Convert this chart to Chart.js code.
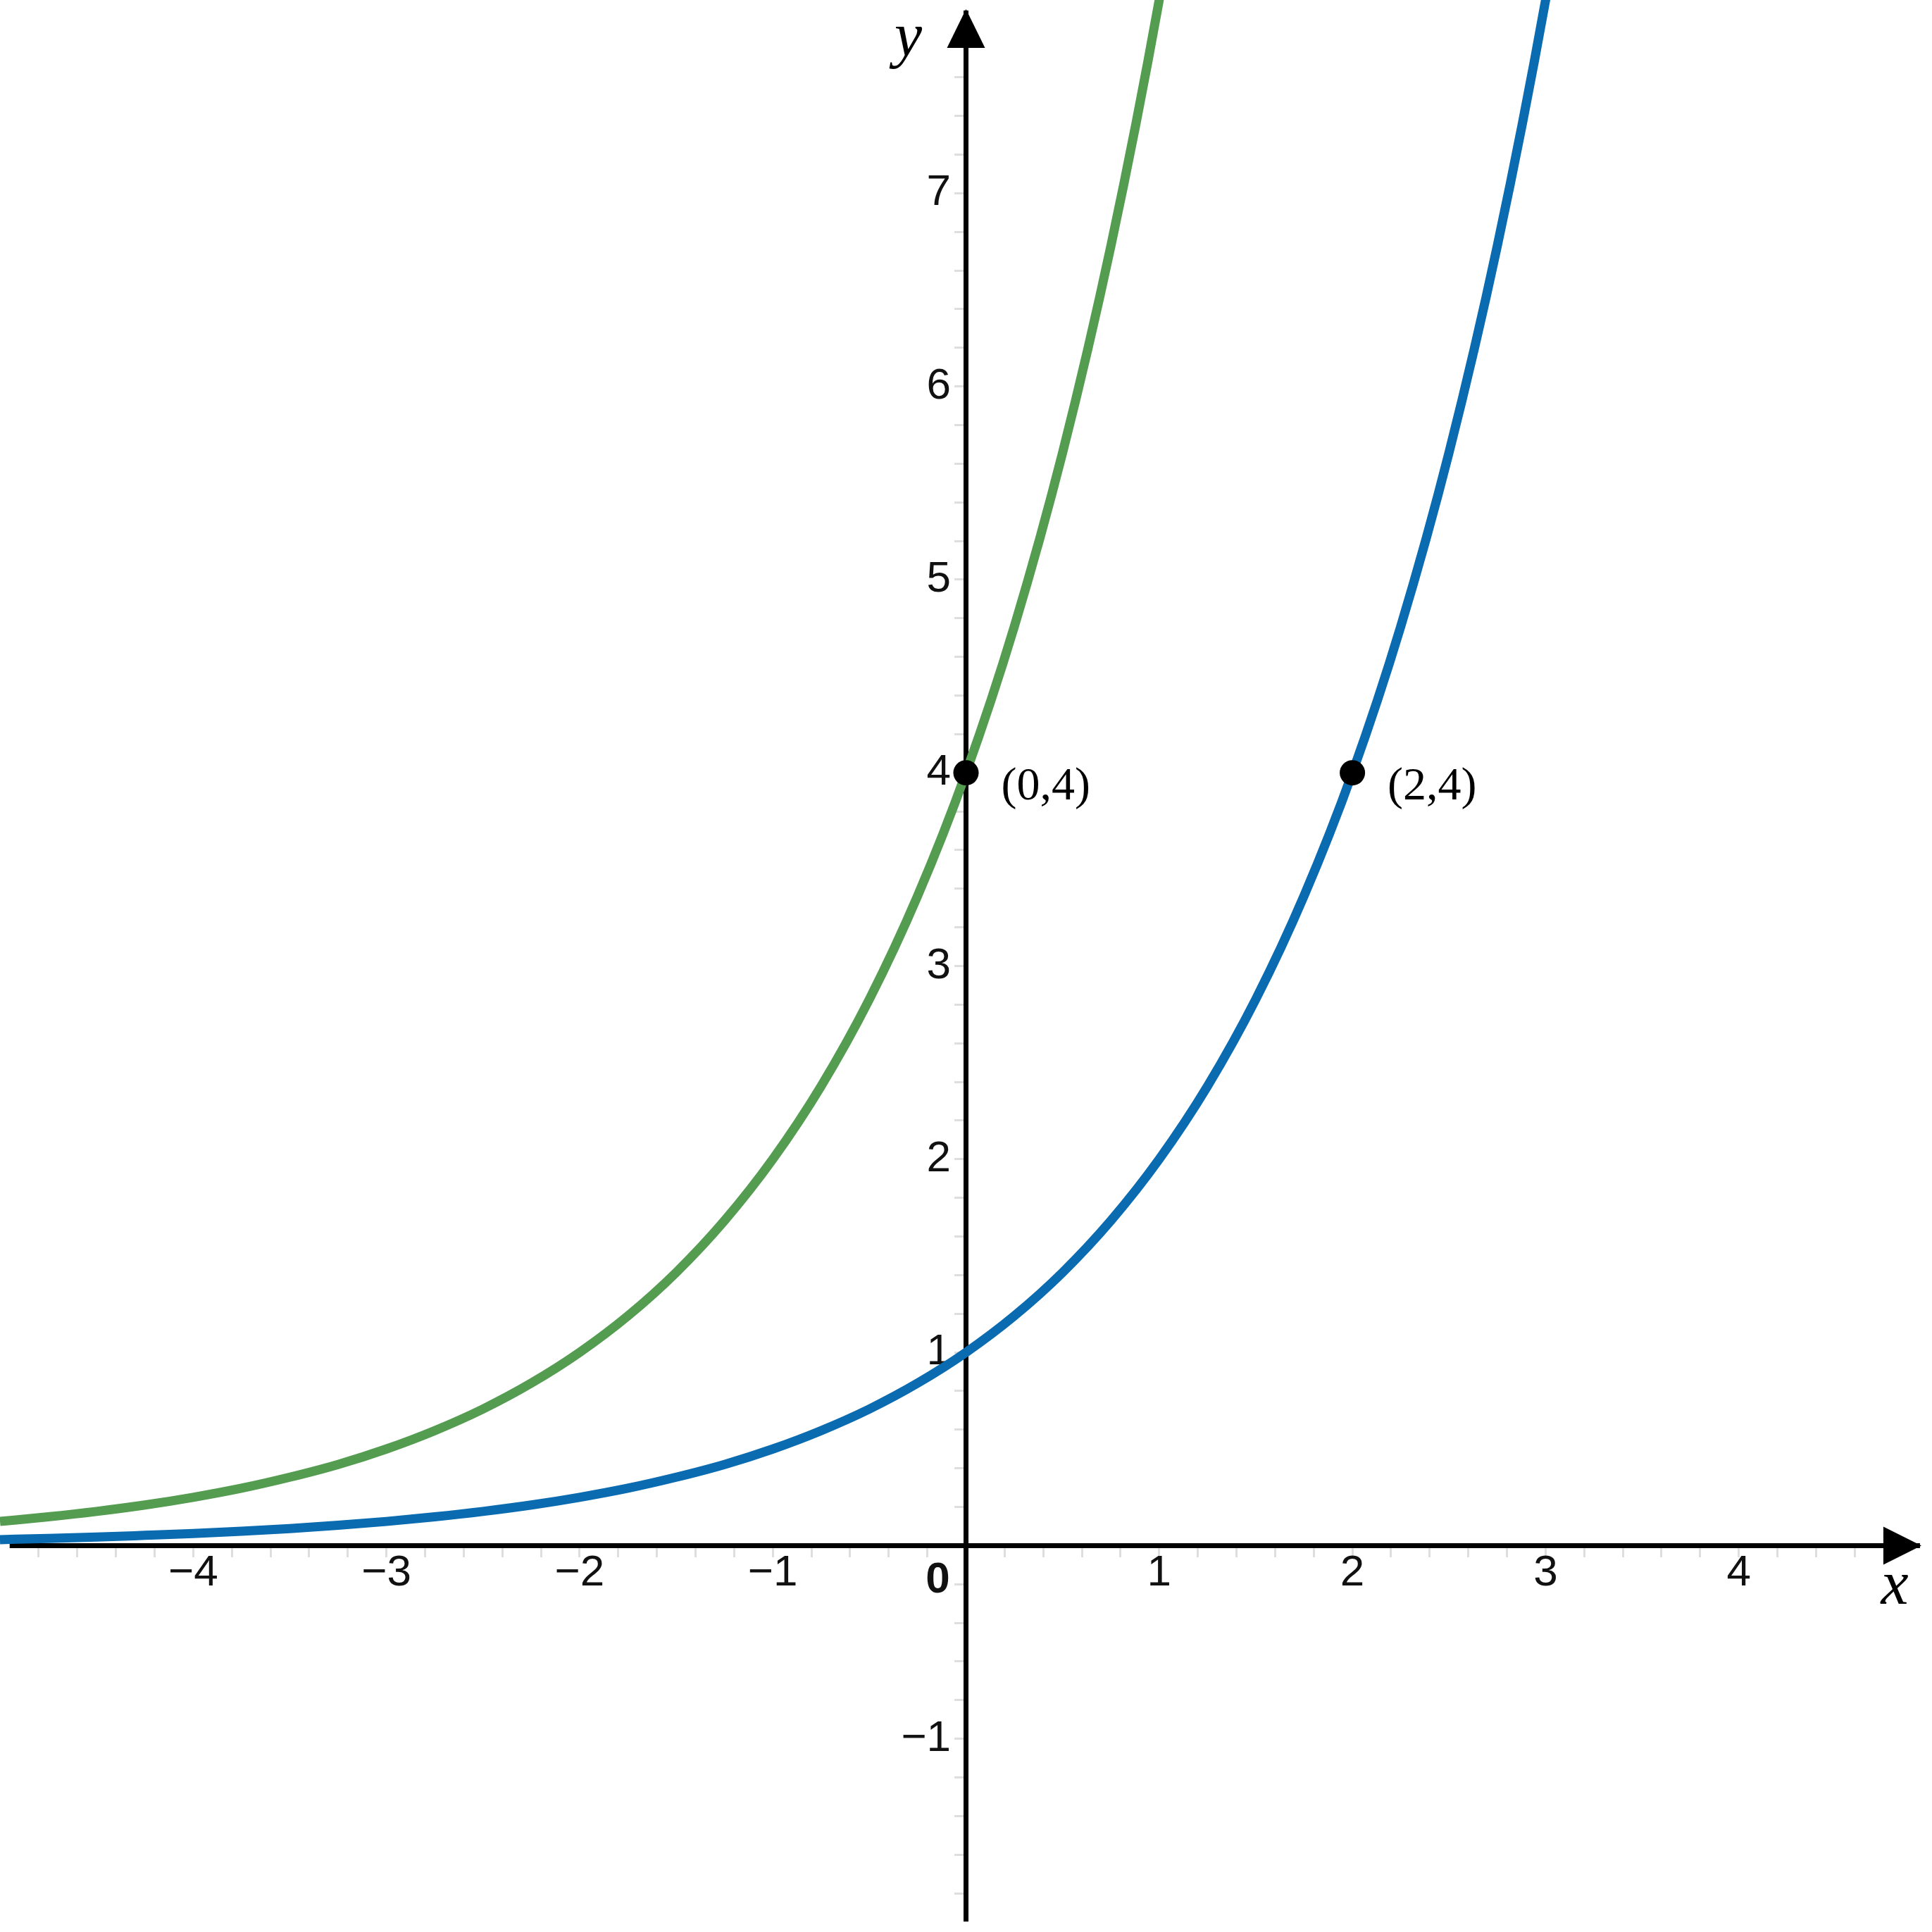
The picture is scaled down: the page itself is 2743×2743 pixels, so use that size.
<!DOCTYPE html>
<html>
<head>
<meta charset="utf-8">
<script src="https://cdn.jsdelivr.net/npm/chart.js@4.4.1/dist/chart.umd.min.js"></script>
<style>
  html, body { margin: 0; padding: 0; background: #fff; }
  canvas { display: block; }
</style>
</head>
<body>
<canvas id="expChart" width="2743" height="2743"></canvas>
<script>
const xSamples = [-5, -4.75, -4.5, -4.25, -4, -3.75, -3.5, -3.25, -3, -2.75, -2.5, -2.25,
    -2, -1.75, -1.5, -1.25, -1, -0.75, -0.5, -0.25, 0, 0.25, 0.5, 0.75,
    1, 1.25, 1.5, 1.75, 2, 2.25, 2.5, 2.75, 3, 3.25];
// green curve (through (0,4)), leaves the top of the plot near x = 1
const greenY = [0.125, 0.149, 0.177, 0.21, 0.25, 0.297, 0.354, 0.42, 0.5, 0.595, 0.707, 0.841,
    1, 1.189, 1.414, 1.682, 2, 2.378, 2.828, 3.364, 4, 4.757, 5.657, 6.727,
    8, 9.51];
// blue curve (through (0,1) and (2,4)), leaves the top near x = 3
const blueY = [0.031, 0.037, 0.044, 0.053, 0.0625, 0.074, 0.088, 0.105, 0.125, 0.149, 0.177, 0.21,
    0.25, 0.297, 0.354, 0.42, 0.5, 0.595, 0.707, 0.841, 1, 1.189, 1.414, 1.682,
    2, 2.378, 2.828, 3.364, 4, 4.757, 5.657, 6.727, 8, 9.51];
// marked points
const markX = [0, 2];
const markY = [4, 4];
const markLabels = ['(0,4)', '(2,4)'];
// axes
const xRange = [-5, 5];
const yRange = [-2, 8];
const xTickLabels = [-4, -3, -2, -1, 1, 2, 3, 4];
const yTickLabels = [-1, 1, 2, 3, 4, 5, 6, 7];

const GREEN = '#539c50';
const BLUE = '#0a6bb1';
const SANS = '"Liberation Sans", Arial, sans-serif';
const SERIF = '"Liberation Serif", "Times New Roman", serif';

function toPoints(ys) {
    return ys.map((y, i) => ({ x: xSamples[i], y: y }));
}

function fmt(n) {
    return n < 0 ? '\u2212' + (-n) : String(n);
}

function tickLabel(list) {
    return function(value) {
        const r = Math.round(value);
        if (Math.abs(value - r) < 1e-6 && list.includes(r)) return fmt(r);
        return '';
    };
}

function tickColor(range) {
    return function(c) {
        const v = c.tick ? c.tick.value : 0;
        if (v <= range[0] + 0.05 || v >= range[1] - 0.05) return 'rgba(0,0,0,0)';
        return '#dedede';
    };
}

// the axes sit inside the plot, so their labels must not shrink it
function noPadding(scale) {
    scale.paddingTop = 0;
    scale.paddingBottom = 0;
    scale.paddingLeft = 0;
    scale.paddingRight = 0;
}

// arrowheads, the origin "0", axis letters and point labels
const axisDecor = {
    id: 'axisDecor',
    beforeDatasetsDraw(chart) {
        const { ctx, scales: { x, y } } = chart;
        const x0 = x.getPixelForValue(0);
        const y0 = y.getPixelForValue(0);
        const xTip = x.getPixelForValue(4.945);
        const yTip = y.getPixelForValue(7.953);
        const xStart = x.getPixelForValue(-4.95);
        const yStart = y.getPixelForValue(-1.946);
        ctx.save();
        // trim the axis lines where the picture stops them
        ctx.fillStyle = '#fff';
        ctx.fillRect(xTip - 2, y0 - 6, chart.width - xTip + 2, 12);
        ctx.fillRect(0, y0 - 6, xStart, 12);
        ctx.fillRect(x0 - 6, 0, 12, yTip + 2);
        ctx.fillRect(x0 - 6, yStart, 12, chart.height - yStart);
        ctx.fillStyle = '#000';
        ctx.beginPath();
        ctx.moveTo(x0, yTip);
        ctx.lineTo(x0 - 27, yTip + 55);
        ctx.lineTo(x0 + 27, yTip + 55);
        ctx.closePath();
        ctx.fill();
        ctx.beginPath();
        ctx.moveTo(xTip, y0);
        ctx.lineTo(xTip - 54, y0 - 27);
        ctx.lineTo(xTip - 54, y0 + 27);
        ctx.closePath();
        ctx.fill();
        ctx.restore();
    },
    afterDatasetsDraw(chart) {
        const { ctx, scales: { x, y } } = chart;
        const x0 = x.getPixelForValue(0);
        const y0 = y.getPixelForValue(0);
        const xTip = x.getPixelForValue(4.945);
        const yTip = y.getPixelForValue(7.953);
        ctx.save();
        ctx.fillStyle = '#111';
        ctx.textAlign = 'center';
        ctx.textBaseline = 'middle';
        ctx.font = 'bold 62px ' + SANS;
        ctx.fillText('0', x0 - 40, y0 + 50);

        ctx.fillStyle = '#000';
        ctx.textBaseline = 'alphabetic';
        ctx.font = 'italic 88px ' + SERIF;
        ctx.fillText('y', x0 - 82, yTip + 66);
        ctx.fillText('x', xTip - 38, y0 + 83);

        ctx.textAlign = 'left';
        ctx.textBaseline = 'middle';
        ctx.font = '66px ' + SERIF;
        markLabels.forEach((t, i) => {
            const px = x.getPixelForValue(markX[i]);
            const py = y.getPixelForValue(markY[i]);
            ctx.fillText(t, px + 50, py + 20);
        });
        ctx.restore();
    }
};

const tickFont = { family: SANS, size: 62, lineHeight: 1 };

const axisGrid = {
    display: true,
    drawOnChartArea: false,
    drawTicks: true,
    tickLength: 13,
    tickWidth: 3
};

new Chart(document.getElementById('expChart'), {
    type: 'line',
    data: {
        datasets: [{
            label: 'points',
            data: markX.map((v, i) => ({ x: v, y: markY[i] })),
            showLine: false,
            pointRadius: 18,
            pointBackgroundColor: '#000',
            pointBorderColor: '#000',
            pointBorderWidth: 0
        }, {
            label: 'green',
            data: toPoints(greenY),
            borderColor: GREEN,
            borderWidth: 13,
            pointRadius: 0,
            cubicInterpolationMode: 'monotone',
            fill: false
        }, {
            label: 'blue',
            data: toPoints(blueY),
            borderColor: BLUE,
            borderWidth: 13,
            pointRadius: 0,
            cubicInterpolationMode: 'monotone',
            fill: false
        }]
    },
    options: {
        responsive: false,
        animation: false,
        devicePixelRatio: 1,
        events: [],
        layout: { padding: 0, autoPadding: false },
        plugins: {
            legend: { display: false },
            tooltip: { enabled: false },
            title: { display: false }
        },
        scales: {
            x: {
                type: 'linear',
                position: { y: 0 },
                min: xRange[0],
                max: xRange[1],
                afterFit: noPadding,
                border: { display: true, color: '#000', width: 7 },
                grid: Object.assign({}, axisGrid, { tickColor: tickColor(xRange) }),
                ticks: {
                    stepSize: 0.2,
                    autoSkip: false,
                    maxRotation: 0,
                    padding: -4,
                    color: '#111',
                    font: tickFont,
                    callback: tickLabel(xTickLabels)
                }
            },
            y: {
                type: 'linear',
                position: { x: 0 },
                min: yRange[0],
                max: yRange[1],
                afterFit: noPadding,
                border: { display: true, color: '#000', width: 7 },
                grid: Object.assign({}, axisGrid, { tickColor: tickColor(yRange) }),
                ticks: {
                    stepSize: 0.2,
                    autoSkip: false,
                    font: tickFont,
                    callback: () => ''
                }
            },
            // labels of the y axis, set just left of the axis line
            yLabels: {
                type: 'linear',
                axis: 'y',
                position: { x: -0.078 },
                min: yRange[0],
                max: yRange[1],
                afterFit: noPadding,
                border: { display: false },
                grid: { display: false },
                ticks: {
                    stepSize: 1,
                    autoSkip: false,
                    color: '#111',
                    font: tickFont,
                    callback: tickLabel(yTickLabels)
                }
            }
        }
    },
    plugins: [axisDecor]
});
</script>
</body>
</html>
